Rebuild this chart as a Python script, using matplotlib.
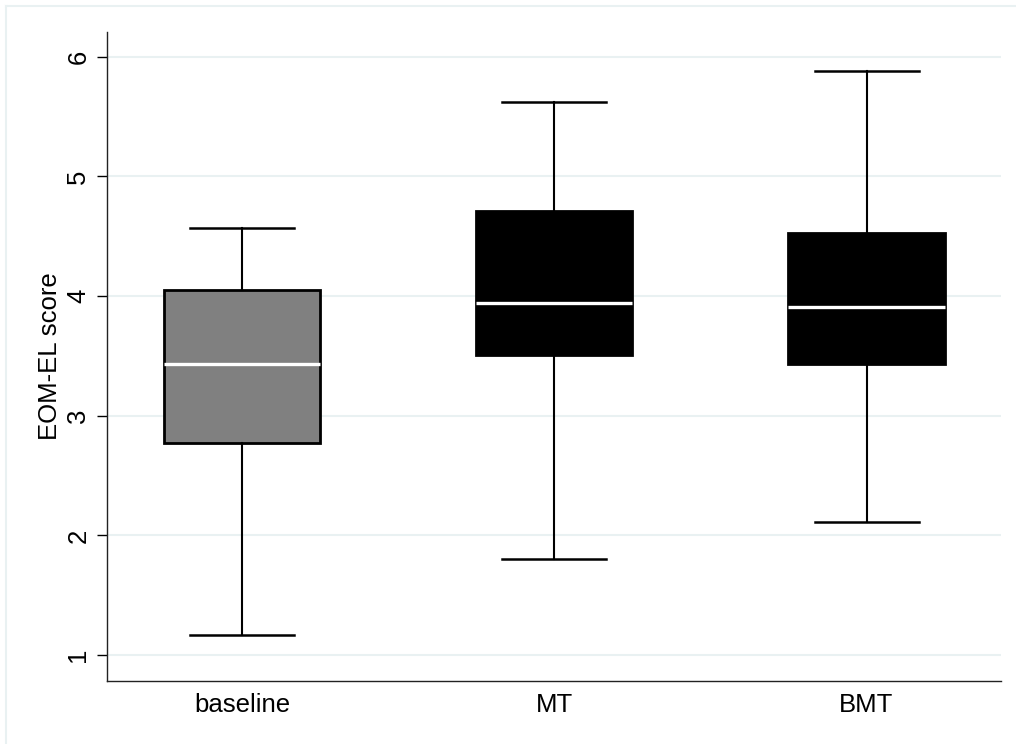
"""Stata-style box plot of EOM-EL scores for baseline, MT and BMT."""

import matplotlib

matplotlib.use("Agg")
import matplotlib.pyplot as plt
from matplotlib.lines import Line2D

plt.rcParams["font.family"] = ["Liberation Sans", "DejaVu Sans"]

# values
groups = ["baseline", "MT", "BMT"]
whisker_low = [1.17, 1.80, 2.11]
q1 = [2.77, 3.51, 3.43]
median = [3.43, 3.94, 3.91]
q3 = [4.05, 4.71, 4.53]
whisker_high = [4.57, 5.62, 5.88]
box_colors = ["#808080", "#000000", "#000000"]
y_ticks = [1, 2, 3, 4, 5, 6]

grid_col = "#e9f1f2"

fig = plt.figure(figsize=(10.16, 7.44), dpi=100)
ax = fig.add_axes([0.1053, 0.0851, 0.8804, 0.8723])

stats = []
for i, g in enumerate(groups):
    stats.append({"label": g, "whislo": whisker_low[i], "q1": q1[i],
                  "med": median[i], "q3": q3[i], "whishi": whisker_high[i]})

bp = ax.bxp(stats, positions=range(len(groups)), widths=0.5,
            showfliers=False, patch_artist=True,
            boxprops=dict(edgecolor="black", linewidth=2.0),
            whiskerprops=dict(color="black", linewidth=1.5),
            capprops=dict(color="black", linewidth=1.8),
            medianprops=dict(color="white", linewidth=2.4),
            capwidths=0.333)
for patch, c in zip(bp["boxes"], box_colors):
    patch.set_facecolor(c)
for m in bp["medians"]:
    m.set_zorder(4)

ax.set_xlim(-0.432, 2.432)
ax.set_ylim(0.786, 6.209)
ax.set_yticks(y_ticks)
ax.set_yticklabels([str(t) for t in y_ticks], rotation=90, va="center")
ax.set_xticks(range(len(groups)))
ax.set_xticklabels(groups)
ax.yaxis.grid(True, color=grid_col, linewidth=1.5)
ax.set_axisbelow(True)

ax.tick_params(axis="y", length=7, width=1.0, labelsize=18.5, pad=5)
ax.tick_params(axis="x", length=0, labelsize=18.5, pad=9)
ax.set_ylabel("EOM-EL score", fontsize=18.5, labelpad=3)

for side in ("top", "right"):
    ax.spines[side].set_visible(False)
for side in ("left", "bottom"):
    ax.spines[side].set_linewidth(1.0)
    ax.spines[side].set_color("#222222")

# faint outer frame of the graph region
fig.add_artist(Line2D([6 / 1016, 6 / 1016], [0.0, 1 - 6 / 744],
                      transform=fig.transFigure, color=grid_col, lw=1.5))
fig.add_artist(Line2D([6 / 1016, 1.0], [1 - 6 / 744, 1 - 6 / 744],
                      transform=fig.transFigure, color=grid_col, lw=1.5))

fig.savefig("out.png", dpi=100, facecolor="white")
